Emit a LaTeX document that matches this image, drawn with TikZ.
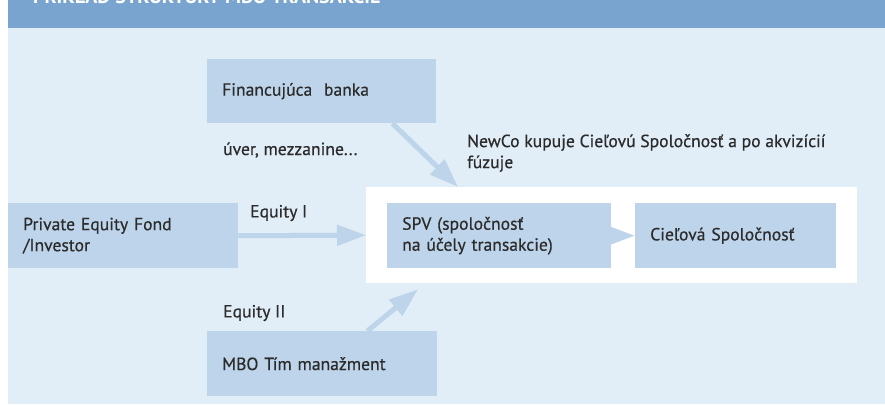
\documentclass[tikz,border=0pt]{standalone}
\usepackage{fontspec}
\setmainfont{PT Sans}[FakeBold=0.5]
\newfontfamily\titlefont{PT Sans Bold}
\usetikzlibrary{arrows.meta,calc}
\definecolor{hdr}{HTML}{78A4CF}
\definecolor{panel}{HTML}{E1EDF7}
\definecolor{boxc}{HTML}{BDD4EA}
\definecolor{txt}{HTML}{2B2B2B}
\tikzset{
  every node/.style={font=\fontsize{17.6}{21}\selectfont, text=txt},
  box/.style={fill=boxc, draw=none, anchor=north west, align=left, inner xsep=15pt, inner ysep=0pt},
  lbl/.style={anchor=west, align=left, inner sep=0pt},
  flow/.style={draw=boxc, line width=5pt, -{Triangle[length=29pt,width=20pt]}}
}
\begin{document}
\begin{tikzpicture}[x=1pt,y=-1pt]
\useasboundingbox (0,0) rectangle (885,404);
\begin{scope}
\clip (0,0) rectangle (885,404);
\fill[panel] (8,28) rectangle (885,404);
\fill[hdr] (8,0) rectangle (885,28);
\node[anchor=base west, inner sep=0pt, text=white, font=\titlefont\fontsize{20}{22}\selectfont] (title) at (33,3.5) {PRÍKLAD ŠTRUKTÚRY MBO TRANSAKCIE};
\end{scope}
% white frame
\node[fill=white, anchor=north west, minimum width=491pt, minimum height=96pt, inner sep=0pt] (frame) at (366,187) {};
% boxes
\node[box, minimum height=64pt, text width=199pt] (bank) at (207,59) {Financujúca\ \ banka};
\node[box, minimum height=65pt, text width=200pt] (pe) at (8,203) {Private Equity Fond\\/Investor};
\node[box, minimum height=65pt, text width=194pt] (spv) at (387,203) {SPV (spoločnosť\\na účely transakcie)};
\node[box, minimum height=65pt, text width=171pt] (ciel) at (635,203) {Cieľová Spoločnosť};
\node[box, minimum height=65pt, text width=200pt] (mbo) at (207,331) {MBO Tím manažment};
% labels
\node[lbl] (uver) at (223,150) {úver, mezzanine...};
\node[lbl] (newco) at (467,153) {NewCo kupuje Cieľovú Spoločnosť a po akvizícií\\fúzuje};
\node[lbl] (eq1) at (250,213) {Equity I};
\node[lbl] (eq2) at (223,313) {Equity II};
% connectors
\coordinate (banktip) at ($(frame.north west)+(92,0)$);
\coordinate (mbotip) at ($(frame.south west)+(52,6)$);
\draw[flow] ($(bank.south east)+(-44,0)$) -- (banktip);
\draw[flow] (pe.east) -- (frame.west);
\draw[flow] ($(spv.east)+(-29,0)$) -- (ciel.west);
\draw[flow] ($(mbo.north east)+(-70,0)$) -- (mbotip);
\end{tikzpicture}
\end{document}
